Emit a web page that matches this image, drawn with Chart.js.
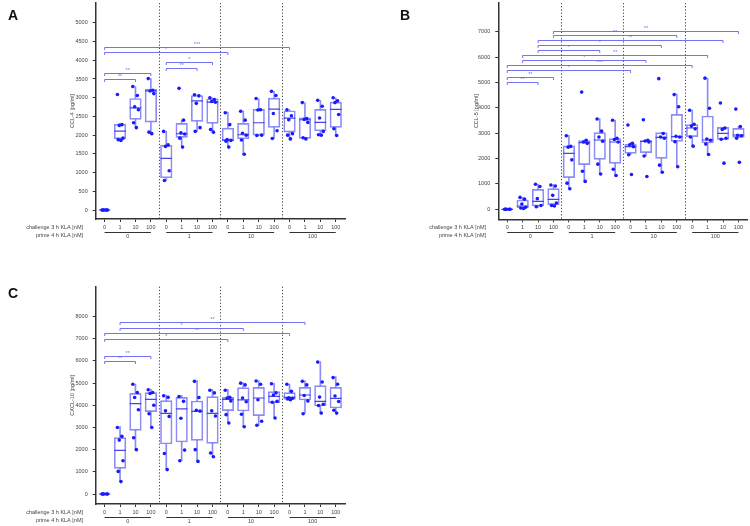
<!DOCTYPE html>
<html>
<head>
<meta charset="utf-8">
<script src="https://cdn.jsdelivr.net/npm/chart.js@4.4.1/dist/chart.umd.min.js"></script>
<style>
  body { margin: 0; background: #fff; }
  #wrap { position: relative; width: 750px; height: 526px; overflow: hidden; }
  .panel { position: absolute; }
  .tag { position: absolute; font: bold 14px "Liberation Sans", Arial, sans-serif; color: #111; z-index: 2; }
</style>
</head>
<body>
<div id="wrap">
  <div class="panel" style="left:0;top:-10px;width:370px;height:270px"><canvas id="chartA"></canvas></div>
  <div class="panel" style="left:380px;top:-10px;width:380px;height:270px"><canvas id="chartB"></canvas></div>
  <div class="panel" style="left:0;top:260px;width:370px;height:266px"><canvas id="chartC"></canvas></div>
  <div class="tag" style="left:8px;top:7px">A</div>
  <div class="tag" style="left:400px;top:7px">B</div>
  <div class="tag" style="left:8px;top:285px">C</div>
</div>
<script>
// x-axis labels
const challengeLabels = ['0', '1', '10', '100'];
const primeLabels = ['0', '1', '10', '100'];

// CCL-4 (A)
const ccl4Lo  = [0, 1860, 2200, 2040, 790, 1680, 2100, 2080, 1670, 1490, 1990, 1910, 1870, 1900, 2000, 1990];
const ccl4Q1  = [0, 1904, 2420, 2349, 863, 1940, 2367, 2313, 1851, 1904, 2002, 2206, 2082, 1914, 2118, 2207];
const ccl4Med = [0, 2108, 2731, 3185, 1379, 2037, 2918, 2883, 1868, 2011, 2331, 2696, 2456, 2411, 2340, 2687];
const ccl4Q3  = [0, 2295, 2980, 3221, 1726, 2313, 3060, 2972, 2189, 2313, 2687, 2989, 2651, 2465, 2687, 2883];
const ccl4Hi  = [0, 2295, 3300, 3510, 2100, 2400, 3080, 3000, 2616, 2640, 2980, 3170, 2680, 2870, 2930, 3000];
const ccl4Pts = [
  [0, 0, 0, 0, 0, 0], [3087, 2280, 2260, 1920, 1880, 1860], [3300, 3060, 2760, 2680, 2330, 2200], [3510, 3200, 3180, 3110, 2080, 2040],
  [2100, 1740, 1700, 1050, 790], [3250, 2400, 2060, 2030, 1920, 1680], [3080, 3050, 2850, 2200, 2100], [3000, 2950, 2900, 2880, 2150, 2080],
  [2600, 2280, 1880, 1860, 1840, 1680], [2640, 2400, 2050, 2000, 1870, 1490], [2980, 2680, 2670, 2000, 1990], [3170, 3060, 2580, 2117, 1910],
  [2680, 2520, 2410, 2040, 2000, 1900], [2870, 2440, 2420, 2340, 1930, 1900], [2930, 2770, 2460, 2100, 2010, 2000], [3000, 2920, 2870, 2550, 2170, 1990]
];
const ccl4SigFrom = [0, 0, 4, 4, 0, 0];
const ccl4SigTo   = [2, 3, 6, 7, 8, 12];
const ccl4SigY    = [3505, 3657, 3781, 3950, 4208, 4359];
const ccl4SigText = ['**', '**', '**', '*', '*', '***'];
const ccl4Ticks = [0, 500, 1000, 1500, 2000, 2500, 3000, 3500, 4000, 4500, 5000];

// CCL-5 (B)
const ccl5Lo  = [0, 26, 79, 105, 810, 1090, 1392, 1313, 2154, 2101, 1458, 1681, 2490, 2160, 2758, 2837];
const ccl5Q1  = [0, 53, 131, 184, 1250, 1760, 1970, 1812, 2206, 2233, 2009, 2679, 2863, 2614, 2758, 2837];
const ccl5Med = [0, 131, 315, 394, 2206, 2627, 2732, 2653, 2469, 2679, 2837, 2863, 3205, 2732, 2994, 2929];
const ccl5Q3  = [0, 368, 788, 814, 2500, 2706, 3021, 2784, 2561, 2706, 3021, 3743, 3336, 3677, 3231, 3191];
const ccl5Hi  = [0, 473, 998, 972, 2916, 2732, 3572, 3520, 2627, 2706, 3021, 4544, 3914, 5161, 3231, 3260];
const ccl5Pts = [
  [0, 0, 0, 0, 0], [470, 400, 210, 80, 50, 30], [990, 900, 420, 150, 100], [960, 920, 550, 250, 150, 130],
  [2900, 2480, 2450, 1950, 1030, 810], [4620, 2720, 2650, 2600, 1500, 1100], [3560, 3080, 2850, 2680, 1780, 1390], [3510, 2800, 2750, 2650, 1580, 1330],
  [3320, 2600, 2540, 2470, 2150, 1370], [3530, 2720, 2690, 2650, 2100, 1290], [5150, 2990, 2850, 2800, 1740, 1460], [4520, 4040, 2880, 2850, 2660, 1680],
  [3900, 3350, 3280, 3170, 2850, 2490], [5170, 3980, 2770, 2720, 2570, 2160], [4190, 3200, 3150, 2800, 2760, 1820], [3950, 3260, 2920, 2900, 2800, 1850]
];
const ccl5SigFrom = [0, 0, 0, 0, 1, 1, 2, 2, 2, 3, 3];
const ccl5SigTo   = [2, 3, 8, 12, 9, 13, 6, 10, 14, 11, 15];
const ccl5SigY    = [5004, 5201, 5503, 5700, 5884, 6081, 6278, 6462, 6659, 6856, 7013];
const ccl5SigText = ['**', '**', '*', '***', '*', '**', '*', '*', '**', '**', '**'];
const ccl5Ticks = [0, 1000, 2000, 3000, 4000, 5000, 6000, 7000];

// CXCL-10 (C)
const cxclLo  = [0, 556, 2000, 3008, 1113, 1504, 1474, 1684, 3218, 3038, 3098, 3459, 4241, 3639, 3639, 3639];
const cxclQ1  = [0, 1158, 2872, 3714, 2256, 2346, 2421, 2286, 3759, 3744, 3534, 4120, 4271, 4241, 3970, 3880];
const cxclMed = [0, 1970, 4075, 4271, 3639, 3835, 3729, 3639, 4271, 4241, 4331, 4406, 4361, 4466, 4180, 4316];
const cxclQ3  = [0, 2541, 4541, 4571, 4211, 4361, 4195, 4391, 4361, 4797, 4812, 4617, 4571, 4812, 4887, 4812];
const cxclHi  = [0, 3038, 4962, 4737, 4466, 4451, 5113, 4722, 4722, 5023, 5113, 4992, 4962, 5113, 5970, 5293];
const cxclPts = [
  [0, 0, 0, 0, 0], [3000, 2600, 2430, 1500, 1020, 560], [4950, 4580, 4350, 3800, 2540, 2000], [4700, 4580, 4530, 4000, 3620, 3000],
  [4430, 4360, 3750, 3500, 1830, 1100], [4400, 4180, 3420, 1980, 1500], [5080, 4350, 3780, 3740, 2000, 1470], [4680, 4560, 3750, 3520, 1850, 1680],
  [4680, 4360, 4330, 4200, 3580, 3200], [5000, 4920, 4330, 4160, 3600, 3030], [5100, 4950, 4250, 3280, 3100], [4970, 4560, 4460, 4180, 4140, 3430],
  [4950, 4630, 4340, 4320, 4290, 4250], [5080, 4920, 4440, 4200, 3620], [5950, 5050, 4370, 4050, 3990, 3650], [5250, 4950, 4420, 4170, 3780, 3650]
];
const cxclSigFrom = [0, 0, 0, 0, 1, 1];
const cxclSigTo   = [2, 3, 8, 12, 9, 13];
const cxclSigY    = [6015, 6241, 6992, 7248, 7474, 7744];
const cxclSigText = ['**', '**', '*', '**', '*', '**'];
const cxclTicks = [0, 1000, 2000, 3000, 4000, 5000, 6000, 7000, 8000];

// look
const FONT = '"Liberation Sans", Arial, sans-serif';
const TXT = '#444';
const AXIS = '#333';
const BOX = 'rgba(120,120,245,0.85)';
const MED = 'rgba(60,60,225,0.95)';
const DOT = '#1a1aff';
const SIG = 'rgba(100,100,240,0.9)';
const JIT = [-0.17, 0.12, -0.05, 0.19, -0.12, 0.06, 0.15];

function makePanel(id, p) {
  const n = p.med.length;
  const idx = [...Array(n).keys()];
  const pts = [];
  p.pts.forEach((arr, i) => arr.forEach((v, k) => pts.push({ x: i + JIT[k % JIT.length], y: v })));

  const decor = {
    id: 'decor',
    afterDatasetsDraw(chart) {
      const { ctx, chartArea: a, scales: { x, y } } = chart;
      ctx.save();
      // dotted group separators
      ctx.strokeStyle = '#444';
      ctx.lineWidth = 1;
      ctx.setLineDash([1.2, 2]);
      [3.5, 7.5, 11.5].forEach(v => {
        const px = Math.round(x.getPixelForValue(v)) + 0.5;
        ctx.beginPath(); ctx.moveTo(px, a.top); ctx.lineTo(px, a.bottom); ctx.stroke();
      });
      ctx.setLineDash([]);
      // significance brackets
      ctx.strokeStyle = SIG; ctx.fillStyle = SIG; ctx.lineWidth = 1;
      ctx.font = '5.5px ' + FONT; ctx.textAlign = 'center'; ctx.textBaseline = 'alphabetic';
      p.sigFrom.forEach((f, i) => {
        const xa = x.getPixelForValue(f), xb = x.getPixelForValue(p.sigTo[i]);
        const py = Math.round(y.getPixelForValue(p.sigY[i])) + 0.5;
        ctx.beginPath();
        ctx.moveTo(xa, py + 2.5); ctx.lineTo(xa, py); ctx.lineTo(xb, py); ctx.lineTo(xb, py + 2.5);
        ctx.stroke();
        ctx.fillText(p.sigText[i], (xa + xb) / 2, py - 1.2);
      });
      ctx.restore();
    },
    afterDraw(chart) {
      const { ctx, chartArea: a, scales: { x } } = chart;
      ctx.save();
      ctx.fillStyle = TXT; ctx.strokeStyle = AXIS; ctx.lineWidth = 1;
      ctx.font = '5.5px ' + FONT;
      // row titles
      ctx.textAlign = 'right'; ctx.textBaseline = 'middle';
      ctx.fillText('challenge 3 h KLA [nM]', p.rowX, a.bottom + 8);
      ctx.fillText('prime 4 h KLA [nM]', p.rowX, a.bottom + 16.5);
      // prime groups
      ctx.textAlign = 'center';
      primeLabels.forEach((lab, g) => {
        const xa = x.getPixelForValue(g * 4), xb = x.getPixelForValue(g * 4 + 3);
        const ly = Math.round(a.bottom + 12.5) + 0.5;
        ctx.beginPath(); ctx.moveTo(xa, ly); ctx.lineTo(xb, ly); ctx.stroke();
        ctx.fillText(lab, (xa + xb) / 2, a.bottom + 17);
      });
      // y title
      ctx.translate(p.titleX, (a.top + a.bottom) / 2);
      ctx.rotate(-Math.PI / 2);
      ctx.fillText(p.title, 0, 0);
      ctx.restore();
    }
  };

  return new Chart(document.getElementById(id), {
    type: 'bar',
    data: {
      datasets: [
        { type: 'scatter', data: pts, backgroundColor: DOT, borderColor: DOT, pointRadius: 1.8, borderWidth: 0, order: 0 },
        { type: 'scatter', data: idx.map(i => ({ x: i, y: p.med[i] })), pointStyle: 'line', pointRadius: 5.8,
          borderColor: MED, borderWidth: 1.2, order: 1 },
        { data: idx.map(i => ({ x: i, y: [p.q1[i], p.q3[i]] })), backgroundColor: 'rgba(255,255,255,0)', borderColor: BOX,
          borderWidth: 1, borderSkipped: false, barThickness: 11.6, grouped: false, order: 2 },
        { data: idx.map(i => ({ x: i, y: [p.lo[i], p.q1[i]] })), backgroundColor: BOX, borderWidth: 0,
          barThickness: 1, grouped: false, order: 3 },
        { data: idx.map(i => ({ x: i, y: [p.q3[i], p.hi[i]] })), backgroundColor: BOX, borderWidth: 0,
          barThickness: 1, grouped: false, order: 3 }
      ]
    },
    options: {
      responsive: true,
      maintainAspectRatio: false,
      animation: false,
      layout: { padding: { left: 0, top: p.top, right: p.w - p.right, bottom: 0 } },
      plugins: { legend: { display: false }, tooltip: { enabled: false } },
      scales: {
        x: {
          type: 'linear', min: -0.58, max: 15.6, offset: false,
          afterBuildTicks: s => { s.ticks = [...Array(16).keys()].map(v => ({ value: v })); },
          afterFit: s => { s.height = p.h - p.bottom; },
          ticks: { callback: v => challengeLabels[v % 4], font: { size: 5.5, family: FONT }, color: TXT, padding: 2, maxRotation: 0, autoSkip: false },
          grid: { drawOnChartArea: false, drawTicks: true, tickLength: 3, color: AXIS, offset: false },
          border: { display: true, color: AXIS, width: 1.5 }
        },
        y: {
          min: p.ymin, max: p.ymax,
          afterBuildTicks: s => { s.ticks = p.ticks.map(v => ({ value: v })); },
          afterFit: s => { s.width = p.left; },
          ticks: { callback: v => String(v), font: { size: 5.5, family: FONT }, color: TXT, padding: 5 },
          grid: { drawOnChartArea: false, drawTicks: true, tickLength: 3, color: AXIS },
          border: { display: true, color: AXIS, width: 1.5 }
        }
      }
    },
    plugins: [decor]
  });
}

makePanel('chartA', {
  lo: ccl4Lo, q1: ccl4Q1, med: ccl4Med, q3: ccl4Q3, hi: ccl4Hi, pts: ccl4Pts,
  sigFrom: ccl4SigFrom, sigTo: ccl4SigTo, sigY: ccl4SigY, sigText: ccl4SigText, ticks: ccl4Ticks,
  ymin: -240, ymax: 5530, title: 'CCL-4 [pg/ml]', titleX: 72, rowX: 83,
  w: 370, h: 270, left: 95.7, right: 345, top: 13, bottom: 229
});
makePanel('chartB', {
  lo: ccl5Lo, q1: ccl5Q1, med: ccl5Med, q3: ccl5Q3, hi: ccl5Hi, pts: ccl5Pts,
  sigFrom: ccl5SigFrom, sigTo: ccl5SigTo, sigY: ccl5SigY, sigText: ccl5SigText, ticks: ccl5Ticks,
  ymin: -394, ymax: 8131, title: 'CCL-5 [pg/ml]', titleX: 96.7, rowX: 106,
  w: 380, h: 270, left: 118.3, right: 367.7, top: 13, bottom: 229.3
});
makePanel('chartC', {
  lo: cxclLo, q1: cxclQ1, med: cxclMed, q3: cxclQ3, hi: cxclHi, pts: cxclPts,
  sigFrom: cxclSigFrom, sigTo: cxclSigTo, sigY: cxclSigY, sigText: cxclSigText, ticks: cxclTicks,
  ymin: -451, ymax: 9350, title: 'CXCL-10 [pg/ml]', titleX: 72.7, rowX: 83,
  w: 370, h: 266, left: 95.7, right: 345, top: 26.7, bottom: 244
});
</script>
</body>
</html>
